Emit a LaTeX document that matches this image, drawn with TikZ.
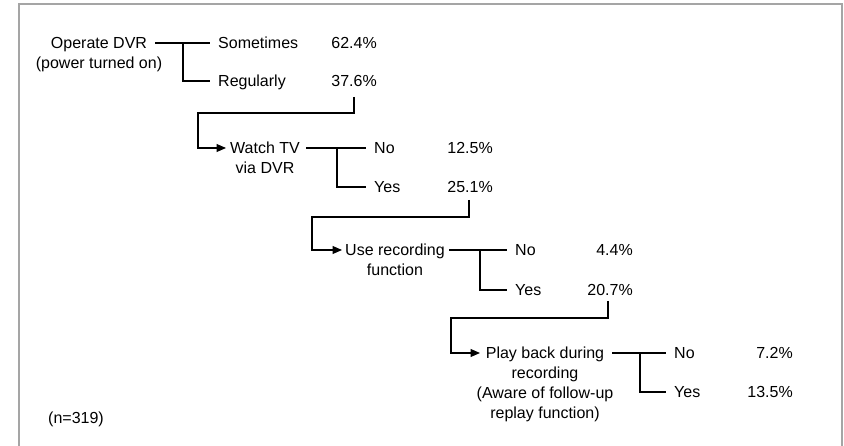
\documentclass[tikz,border=0pt]{standalone}
\usepackage{fontspec}
\setmainfont{Liberation Sans}
\usetikzlibrary{arrows.meta}
\definecolor{framegray}{RGB}{165,165,165}
\begin{document}
\begin{tikzpicture}[x=1pt,y=-1pt,
  every node/.style={font=\fontsize{16}{20}\selectfont, text=black},
  ln/.style={line width=1.1pt, black},
  arr/.style={ln, -{Triangle[length=9.5pt,width=8pt]}},
  question/.style={align=center, anchor=base, inner sep=0pt},
  answer/.style={anchor=west, inner xsep=8pt, inner ysep=0pt, text height=11.5pt, text depth=0pt},
  pct/.style={anchor=east, inner sep=0pt, text height=11.5pt, text depth=0pt}]
\useasboundingbox (0,0) rectangle (844,446);
\draw[framegray, line width=2pt] (19,446) -- (19,4.5) -- (842,4.5) -- (842,446);

% level 1 (base anchor of a multi-line node = baseline of its last line)
\node[question] (q1) at (99,68.7) {Operate DVR\\(power turned on)};
\coordinate (q1o) at (155,43);
\coordinate (q1b) at (183,43);
\node[answer] (a11) at (210,43) {Sometimes};
\node[answer] (a12) at (210,81) {Regularly};
\node[pct] (p11) at (377,43) {62.4\%};
\node[pct] (p12) at (377,81) {37.6\%};
\draw[ln] (q1o) -- (a11.west);
\draw[ln] (q1b) |- (a12.west);

% level 2
\coordinate (c1) at (354,97);
\coordinate (c1m) at (198,113);
\coordinate (q2in) at (226,148);
\draw[arr] (c1) |- (c1m) |- (q2in);
\node[question] (q2) at (265,173.7) {Watch TV\\via DVR};
\coordinate (q2o) at (306,148);
\coordinate (q2b) at (337,148);
\node[answer] (a21) at (366,148) {No};
\node[answer] (a22) at (366,187) {Yes};
\node[pct] (p21) at (493,148) {12.5\%};
\node[pct] (p22) at (493,187) {25.1\%};
\draw[ln] (q2o) -- (a21.west);
\draw[ln] (q2b) |- (a22.west);

% level 3
\coordinate (c2) at (469,200);
\coordinate (c2m) at (312,217);
\coordinate (q3in) at (342,250);
\draw[arr] (c2) |- (c2m) |- (q3in);
\node[question] (q3) at (395,275.7) {Use recording\\function};
\coordinate (q3o) at (449,250);
\coordinate (q3b) at (480,250);
\node[answer] (a31) at (507,250) {No};
\node[answer] (a32) at (507,290) {Yes};
\node[pct] (p31) at (633,250) {4.4\%};
\node[pct] (p32) at (633,290) {20.7\%};
\draw[ln] (q3o) -- (a31.west);
\draw[ln] (q3b) |- (a32.west);

% level 4
\coordinate (c3) at (608,301);
\coordinate (c3m) at (451,318);
\coordinate (q4in) at (480,353);
\draw[arr] (c3) |- (c3m) |- (q4in);
\node[question] (q4) at (545,418.7) {Play back during\\recording\\(Aware of follow-up\\replay function)};
\coordinate (q4o) at (612,353);
\coordinate (q4b) at (640,353);
\node[answer] (a41) at (666,353) {No};
\node[answer] (a42) at (666,392) {Yes};
\node[pct] (p41) at (793,353) {7.2\%};
\node[pct] (p42) at (793,392) {13.5\%};
\draw[ln] (q4o) -- (a41.west);
\draw[ln] (q4b) |- (a42.west);

\node[anchor=west, inner sep=0pt, text height=11.5pt, text depth=0pt] (n) at (48,418) {(n=319)};
\end{tikzpicture}
\end{document}
